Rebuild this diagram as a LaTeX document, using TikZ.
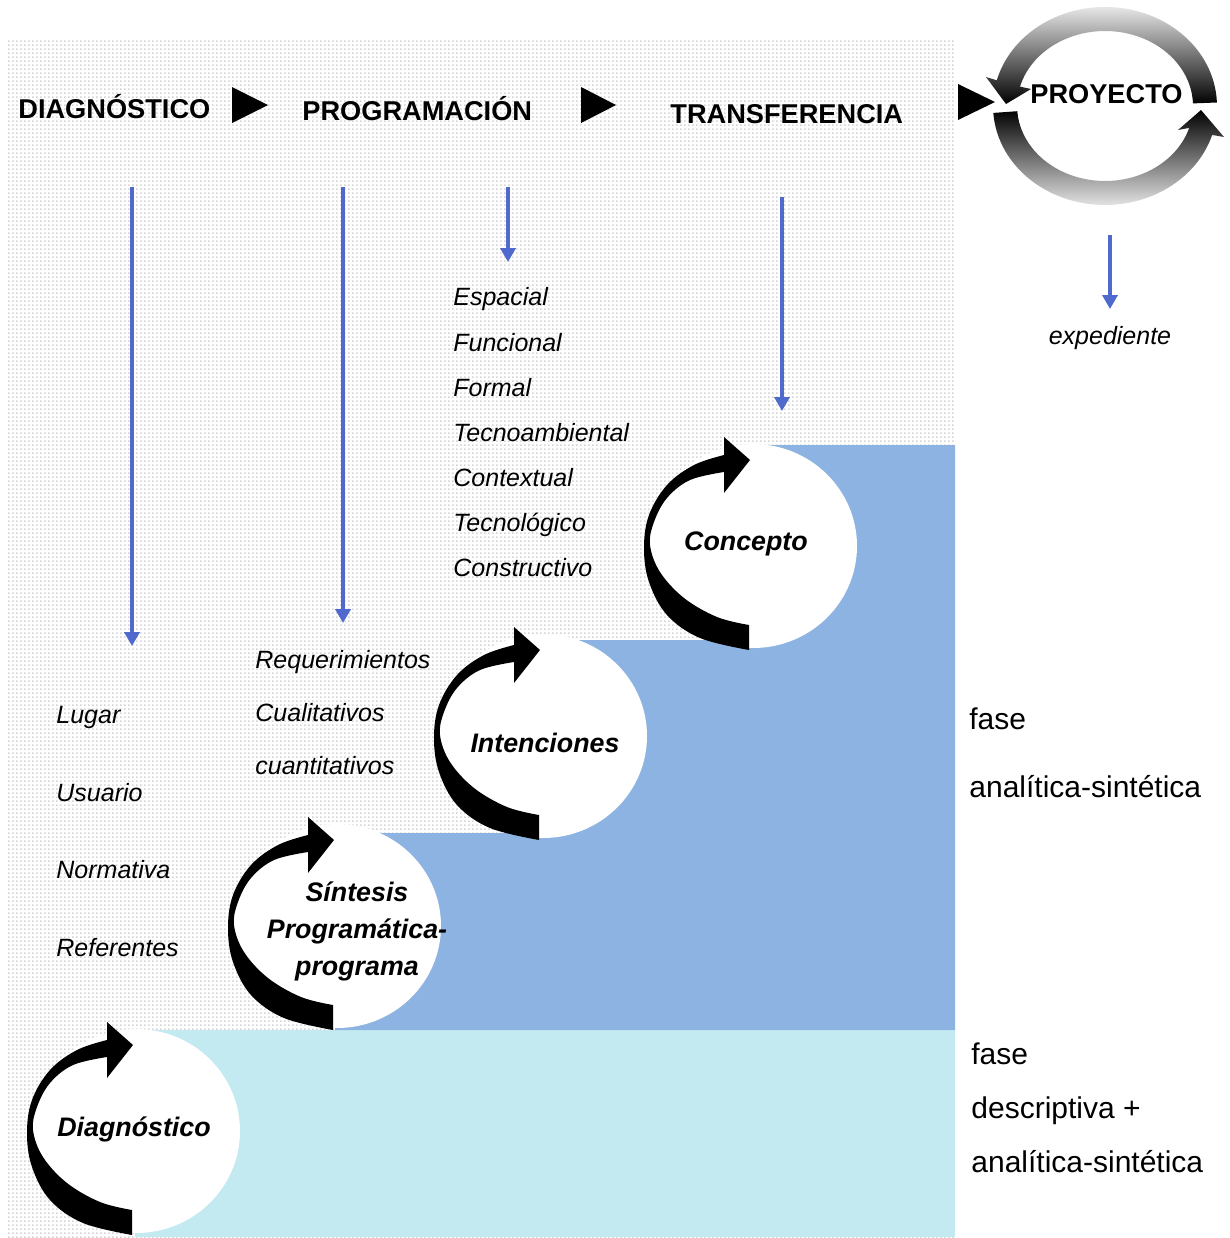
\documentclass[tikz,border=0pt]{standalone}
\usepackage{fontspec}
\setmainfont{Liberation Sans}
\usetikzlibrary{arrows.meta,patterns}

\definecolor{arrowblue}{RGB}{80,105,205}
\definecolor{stepblue}{RGB}{141,179,226}
\definecolor{paleblue}{RGB}{195,233,241}
\definecolor{dotgray}{RGB}{212,212,212}

% fine grid of square dots for the working area
\pgfdeclarepatternformonly{finedots}{\pgfqpoint{0pt}{0pt}}{\pgfqpoint{2pt}{2pt}}{\pgfqpoint{2pt}{2pt}}{%
  \pgfpathrectangle{\pgfqpoint{0pt}{0pt}}{\pgfqpoint{1pt}{1pt}}\pgfusepath{fill}}

% white disc with a black curved arrow wrapped round its left side
\newcommand{\cyclearrow}[2]{%
  \begin{scope}[shift={(#1,#2)}]
    \fill[white] (3,0) ellipse [x radius=104, y radius=102];
    \fill[black]
      plot[smooth, tension=0.6] coordinates {(-1,104) (-50,92) (-83,69) (-101,36) (-106,2) (-101,-31) (-83,-61) (-56,-81) (-26,-91)}
      -- (-26,-109) -- (0,-86) -- (-26,-53) -- (-26,-74)
      -- plot[smooth, tension=0.6] coordinates {(-26,-74) (-60,-66) (-83,-48) (-96,-24) (-100,-1) (-90,26) (-66,52) (-33,71) (-1,79)}
      -- cycle;
  \end{scope}}

\begin{document}
\begin{tikzpicture}[x=0.5pt, y=-0.5pt,
  header/.style={anchor=base west, inner sep=0pt, font=\fontsize{13.6pt}{16pt}\selectfont\bfseries},
  item/.style={anchor=base west, inner sep=0pt, font=\fontsize{12.5pt}{15pt}\selectfont\itshape},
  phase/.style={anchor=base west, inner sep=0pt, font=\fontsize{15pt}{18pt}\selectfont},
  stage/.style={inner sep=0pt, align=center, font=\fontsize{13.4pt}{18.5pt}\selectfont\bfseries\itshape},
  flow/.style={draw=arrowblue, line width=2pt, -{Triangle[width=7.5pt,length=7pt]}},
  pointer/.style={fill=black}
]
\useasboundingbox (0,0) rectangle (1230,1238);

% dotted working area and the stepped phases
\fill[white] (7,38) rectangle (955,1237);
\fill[pattern=finedots, pattern color=dotgray] (7,38) rectangle (955,1237);
\fill[paleblue] (135,1030) rectangle (955,1237);
\fill[stepblue] (750,445) -- (955,445) -- (955,1030) -- (335,1030) -- (335,833)
  -- (540,833) -- (540,640) -- (750,640) -- cycle;

% stage discs
\cyclearrow{133}{1131}
\cyclearrow{334}{926}
\cyclearrow{540}{736}
\cyclearrow{750}{546}

\node[stage] (diag)  at (134,1129) {Diagnóstico};
\node[stage] (sint)  at (357,931) {Síntesis\\Programática-\\programa};
\node[stage] (inten) at (545,743) {Intenciones};
\node[stage] (conc)  at (746,544) {Concepto};

% headers
\node[header] (hdiag) at (18,118) {DIAGNÓSTICO};
\node[header] (hprog) at (302,120) {PROGRAMACIÓN};
\node[header] (htran) at (670,123) {TRANSFERENCIA};
\fill[pointer] (232,87) -- (268,105) -- (232,123) -- cycle;
\fill[pointer] (581,87) -- (616,105) -- (581,123) -- cycle;
\fill[pointer] (958,84) -- (995,102) -- (958,120) -- cycle;

% project cycle
\shade[top color=black!8, bottom color=black]
  (1216.9,102.5) arc[start angle=-2, end angle=-165, x radius=112, y radius=99]
  -- (986,77) -- (1006,104) -- (1031,89) -- (1020,86.6)
  arc[start angle=-165, end angle=-2, x radius=88, y radius=75] -- cycle;
\shade[top color=black, bottom color=black!8]
  (993.3,112.9) arc[start angle=176, end angle=17, x radius=112, y radius=99]
  -- (1224,137) -- (1201,110) -- (1178,130) -- (1189.2,127.9)
  arc[start angle=17, end angle=176, x radius=88, y radius=75] -- cycle;
\node[header] (hproy) at (1030,103) {PROYECTO};

% lists
\node[item] (lug) at (56,723) {Lugar};
\node[item] (usu) at (56,801) {Usuario};
\node[item] (nor) at (56,878) {Normativa};
\node[item] (ref) at (56,956) {Referentes};

\node[item] (req) at (255,668) {Requerimientos};
\node[item] (cua) at (255,721) {Cualitativos};
\node[item] (cun) at (255,774) {cuantitativos};

\node[item] (esp) at (453,305) {Espacial};
\node[item] (fun) at (453,351) {Funcional};
\node[item] (for) at (453,396) {Formal};
\node[item] (tec) at (453,441) {Tecnoambiental};
\node[item] (con) at (453,486) {Contextual};
\node[item] (tcn) at (453,531) {Tecnológico};
\node[item] (cns) at (453,576) {Constructivo};

\node[item, anchor=base] (exp) at (1110,344) {expediente};

% phase labels
\node[phase] (f1a) at (969,729) {fase};
\node[phase] (f1b) at (969,797) {analítica-sintética};
\node[phase] (f2a) at (971,1064) {fase};
\node[phase] (f2b) at (971,1118) {descriptiva +};
\node[phase] (f2c) at (971,1172) {analítica-sintética};

% downward flows
\coordinate (s1) at (132,187);  \coordinate (e1) at (132,646);
\coordinate (s2) at (343,187);  \coordinate (e2) at (343,623);
\coordinate (s3) at (508,187);  \coordinate (e3) at (508,262);
\coordinate (s4) at (782,197);  \coordinate (e4) at (782,411);
\coordinate (s5) at (1110,235); \coordinate (e5) at (1110,309);
\draw[flow] (s1) -- (e1);
\draw[flow] (s2) -- (e2);
\draw[flow] (s3) -- (e3);
\draw[flow] (s4) -- (e4);
\draw[flow] (s5) -- (e5);
\end{tikzpicture}
\end{document}
